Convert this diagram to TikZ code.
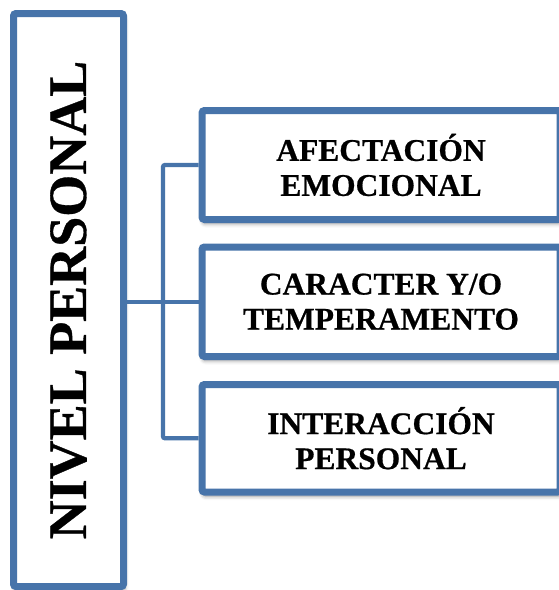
\documentclass[tikz,border=0pt]{standalone}
\usepackage{fontspec}
\setmainfont{Liberation Serif}[BoldFeatures={FakeBold=0.6}]
\usetikzlibrary{shadows.blur}
\definecolor{boxblue}{RGB}{71,116,170}
\tikzset{
  box/.style={draw=boxblue, line width=7pt, fill=white, rounded corners=2.5pt,
    inner sep=0pt, align=center, font=\bfseries\fontsize{31.5}{35}\selectfont,
    blur shadow={shadow xshift=1pt, shadow yshift=-4pt, shadow blur radius=4pt, shadow opacity=45}},
  link/.style={draw=boxblue, line width=4.3pt, rounded corners=2pt}
}
\begin{document}
\begin{tikzpicture}[x=1pt,y=-1pt]
\useasboundingbox (0,0) rectangle (559,590);
\node[box, minimum width=110pt, minimum height=573pt, font=\bfseries\fontsize{54}{60}\selectfont] (nivel) at (68.5,300) {\rotatebox{90}{NIVEL PERSONAL}};
\node[box, minimum width=358pt, minimum height=109pt] (b1) at (381,165) {AFECTACIÓN\\EMOCIONAL};
\node[box, minimum width=358pt, minimum height=109.5pt] (b2) at (381,301.75) {CARACTER Y/O\\TEMPERAMENTO};
\node[box, minimum width=358pt, minimum height=107.5pt] (b3) at (381,438.25) {INTERACCIÓN\\PERSONAL};
\coordinate (j) at (163,301);
\draw[link] (b1.west) -- (b1.west -| j) -- (b3.west -| j) -- (b3.west);
\draw[link] (nivel.east |- b2.west) -- (b2.west);
\end{tikzpicture}
\end{document}
